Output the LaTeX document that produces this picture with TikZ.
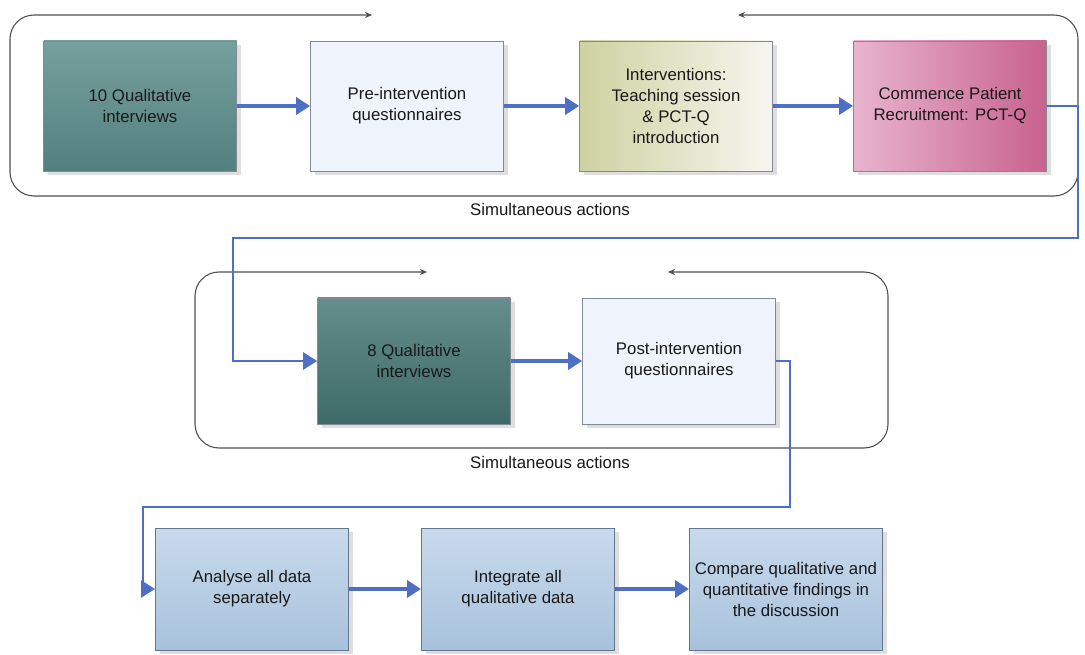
\documentclass[tikz,border=0pt]{standalone}
\usepackage{fontspec}
\setmainfont{Liberation Sans}
\usetikzlibrary{arrows.meta,shadows}
\definecolor{ablue}{RGB}{77,111,196}
\definecolor{frameline}{RGB}{80,80,80}
\definecolor{boxline}{RGB}{130,138,152}
\definecolor{tealA}{RGB}{118,160,158}
\definecolor{tealB}{RGB}{82,128,126}
\definecolor{tealC}{RGB}{100,142,139}
\definecolor{tealD}{RGB}{62,106,104}
\definecolor{paleblue}{RGB}{238,243,252}
\definecolor{oliveA}{RGB}{206,210,160}
\definecolor{oliveB}{RGB}{246,246,240}
\definecolor{pinkA}{RGB}{232,180,206}
\definecolor{pinkB}{RGB}{200,98,142}
\definecolor{steelA}{RGB}{200,218,236}
\definecolor{steelB}{RGB}{168,194,220}
\definecolor{steelline}{RGB}{100,118,142}
\definecolor{txt}{RGB}{25,25,25}
\begin{document}
\begin{tikzpicture}[x=1pt,y=-1pt,
  box/.style={draw=boxline, line width=0.7pt, minimum width=193pt, minimum height=130pt,
    align=center, font=\fontsize{16.8}{21}\selectfont, text=txt, inner sep=2pt},
  boxshadow/.style={drop shadow={shadow xshift=4pt, shadow yshift=-4pt, fill=black!25, opacity=0.5}},
  lowbox/.style={box, minimum height=122pt, draw=steelline, line width=1pt, top color=steelA, bottom color=steelB, boxshadow},
  step arrow/.style={draw=ablue, line width=4pt, -{Triangle[length=14pt,width=17pt]}},
  conn/.style={draw=ablue, line width=2.6pt, -{Triangle[length=14pt,width=17pt]}},
  frame/.style={draw=frameline, line width=1.1pt, rounded corners=24pt, {Stealth[length=7pt,width=6pt]}-{Stealth[length=7pt,width=6pt]}},
  caption/.style={font=\fontsize{16.8}{19}\selectfont, text=txt}
]
\useasboundingbox[fill=white] (0,0) rectangle (1085,655);

% frames
\draw[frame] (738,15) -- (1078,15) -- (1078,196) -- (10,196) -- (10,15) -- (372,15);
\draw[frame] (668,272) -- (888,272) -- (888,448) -- (195,448) -- (195,272) -- (427,272);
\node[caption] (cap1) at (550,209) {Simultaneous actions};
\node[caption] (cap2) at (550,462) {Simultaneous actions};

% row 1
\node[box, top color=tealA, bottom color=tealB, boxshadow] (b1) at (140,106) {10 Qualitative\\interviews};
\node[box, fill=paleblue, boxshadow] (b2) at (407,106) {Pre-intervention\\questionnaires};
\node[box, left color=oliveA, right color=oliveB, boxshadow] (b3) at (676,106) {Interventions:\\Teaching session\\\& PCT-Q\\introduction};
\node[box, left color=pinkA, right color=pinkB, boxshadow] (b4) at (950,106) {Commence Patient\\Recruitment: PCT-Q};

% row 2
\node[box, minimum height=126pt, top color=tealC, bottom color=tealD, boxshadow] (b5) at (414,361) {8 Qualitative\\interviews};
\node[box, minimum height=126pt, fill=paleblue, boxshadow] (b6) at (679,361) {Post-intervention\\questionnaires};

% row 3
\node[lowbox] (b7) at (252,589) {Analyse all data\\separately};
\node[lowbox] (b8) at (518,589) {Integrate all\\qualitative data};
\node[lowbox] (b9) at (786,589) {Compare qualitative and\\quantitative findings in\\the discussion};

% step arrows
\draw[step arrow] (b1.east) -- (b2.west);
\draw[step arrow] (b2.east) -- (b3.west);
\draw[step arrow] (b3.east) -- (b4.west);
\draw[step arrow] (b5.east) -- (b6.west);
\draw[step arrow] (b7.east) -- (b8.west);
\draw[step arrow] (b8.east) -- (b9.west);

% long connectors
\coordinate (c1) at (1078,238);
\coordinate (c2) at (233,238);
\coordinate (c3) at (790,507);
\coordinate (c4) at (143,507);
\draw[conn] (b4.east) -| (c1) -- (c2) |- (b5.west);
\draw[conn] (b6.east) -| (c3) -- (c4) |- (b7.west);
\end{tikzpicture}
\end{document}
